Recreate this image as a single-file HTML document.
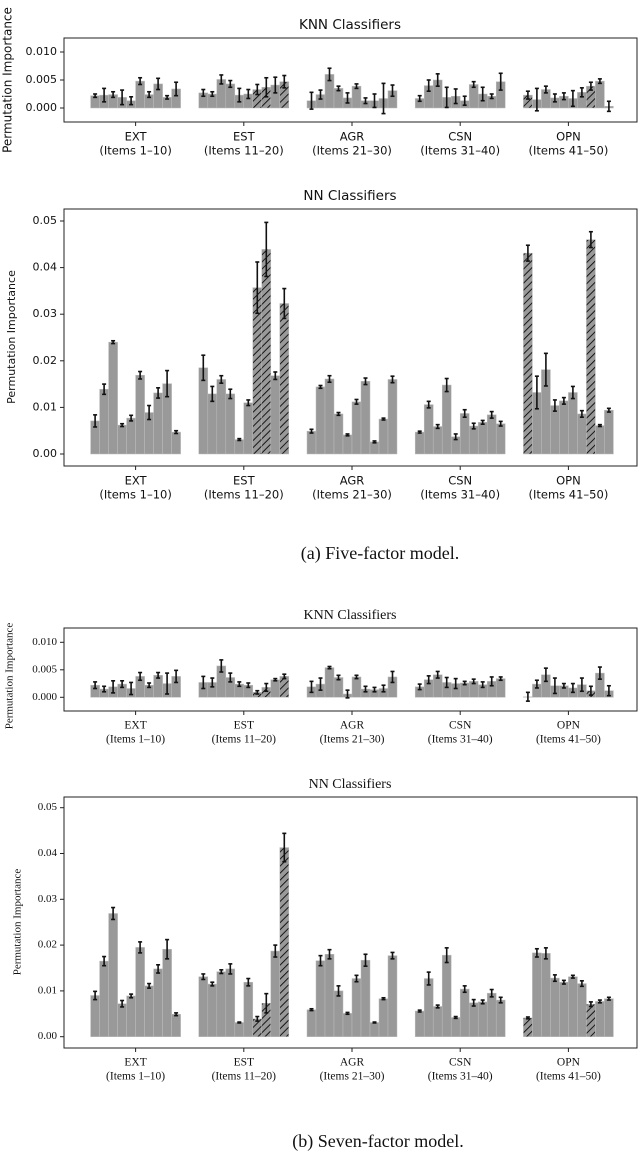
<!DOCTYPE html>
<html><head><meta charset="utf-8"><style>
html,body{margin:0;padding:0;background:#fff;}
svg{display:block;}
</style></head><body>
<svg id="fig" width="640" height="1156" viewBox="0 0 640 1156" xmlns="http://www.w3.org/2000/svg">
<defs>
<pattern id="hatch" patternUnits="userSpaceOnUse" width="5" height="5" patternTransform="rotate(45)">
<rect width="5" height="5" fill="#999"/>
<line x1="0" y1="0" x2="0" y2="5" stroke="#000" stroke-width="1.7"/>
</pattern>
</defs>
</svg>
<script>
// ---- data ----
const categories = ["EXT","EST","AGR","CSN","OPN"];
const itemLabels = ["(Items 1–10)","(Items 11–20)","(Items 21–30)","(Items 31–40)","(Items 41–50)"];
const knn5Values = [0.0022,0.0023,0.0024,0.0019,0.0013,0.0048,0.0024,0.0043,0.0019,0.0034,
 0.0027,0.0025,0.0051,0.0043,0.0023,0.0025,0.0033,0.0037,0.0041,0.0047,
 0.0013,0.0024,0.0060,0.0035,0.0018,0.0039,0.0013,0.0013,0.0017,0.0031,
 0.0017,0.0040,0.0050,0.0019,0.0021,0.0013,0.0042,0.0025,0.0021,0.0047,
 0.0023,0.0015,0.0033,0.0018,0.0021,0.0017,0.0028,0.0039,0.0048,0.0003];
const knn5Errors = [0.0003,0.0012,0.0005,0.0013,0.0007,0.0006,0.0005,0.0010,0.0003,0.0012,
 0.0006,0.0004,0.0008,0.0006,0.0012,0.0008,0.0009,0.0017,0.0014,0.0011,
 0.0015,0.0008,0.0011,0.0004,0.0009,0.0004,0.0005,0.0012,0.0027,0.0010,
 0.0005,0.0010,0.0011,0.0018,0.0013,0.0008,0.0005,0.0012,0.0004,0.0015,
 0.0007,0.0020,0.0006,0.0007,0.0006,0.0014,0.0008,0.0007,0.0004,0.0009];
const nn5Values = [0.0071,0.0139,0.0240,0.0062,0.0077,0.0169,0.0089,0.0131,0.0151,0.0047,
 0.0185,0.0129,0.0160,0.0129,0.0031,0.0110,0.0357,0.0439,0.0168,0.0323,
 0.0049,0.0144,0.0161,0.0086,0.0041,0.0112,0.0156,0.0026,0.0075,0.0160,
 0.0047,0.0106,0.0059,0.0148,0.0037,0.0087,0.0060,0.0068,0.0084,0.0065,
 0.0431,0.0132,0.0181,0.0104,0.0114,0.0132,0.0086,0.0460,0.0061,0.0094];
const nn5Errors = [0.0013,0.0011,0.0003,0.0003,0.0006,0.0008,0.0015,0.0011,0.0028,0.0003,
 0.0027,0.0016,0.0008,0.0010,0.0002,0.0006,0.0055,0.0058,0.0008,0.0032,
 0.0004,0.0003,0.0007,0.0003,0.0002,0.0005,0.0007,0.0002,0.0002,0.0007,
 0.0002,0.0007,0.0004,0.0014,0.0006,0.0008,0.0006,0.0004,0.0007,0.0005,
 0.0017,0.0035,0.0035,0.0012,0.0007,0.0013,0.0007,0.0017,0.0002,0.0004];
const knn7Values = [0.0022,0.0015,0.0019,0.0024,0.0016,0.0038,0.0022,0.0040,0.0025,0.0038,
 0.0027,0.0027,0.0057,0.0036,0.0024,0.0022,0.0009,0.0018,0.0032,0.0038,
 0.0019,0.0024,0.0054,0.0036,0.0006,0.0037,0.0015,0.0014,0.0016,0.0037,
 0.0019,0.0032,0.0041,0.0027,0.0025,0.0026,0.0029,0.0023,0.0029,0.0034,
 0.0001,0.0024,0.0041,0.0021,0.0021,0.0017,0.0023,0.0012,0.0044,0.0012];
const knn7Errors = [0.0006,0.0005,0.0011,0.0006,0.0011,0.0007,0.0004,0.0005,0.0019,0.0011,
 0.0011,0.0008,0.0011,0.0008,0.0004,0.0004,0.0003,0.0007,0.0002,0.0004,
 0.0010,0.0011,0.0002,0.0004,0.0007,0.0003,0.0005,0.0004,0.0006,0.0010,
 0.0005,0.0007,0.0006,0.0009,0.0009,0.0003,0.0004,0.0005,0.0008,0.0003,
 0.0008,0.0007,0.0012,0.0014,0.0004,0.0008,0.0012,0.0008,0.0011,0.0009];
const nn7Values = [0.0090,0.0165,0.0269,0.0072,0.0089,0.0195,0.0111,0.0148,0.0191,0.0049,
 0.0131,0.0115,0.0142,0.0148,0.0031,0.0119,0.0039,0.0073,0.0187,0.0413,
 0.0059,0.0166,0.0180,0.0100,0.0051,0.0127,0.0167,0.0031,0.0083,0.0177,
 0.0056,0.0127,0.0066,0.0178,0.0042,0.0104,0.0074,0.0076,0.0095,0.0080,
 0.0041,0.0183,0.0182,0.0128,0.0119,0.0131,0.0116,0.0071,0.0077,0.0083];
const nn7Errors = [0.0009,0.0010,0.0013,0.0007,0.0004,0.0012,0.0005,0.0009,0.0021,0.0003,
 0.0006,0.0004,0.0004,0.0011,0.0001,0.0008,0.0005,0.0021,0.0013,0.0031,
 0.0002,0.0011,0.0010,0.0011,0.0002,0.0007,0.0013,0.0001,0.0002,0.0007,
 0.0002,0.0014,0.0003,0.0016,0.0002,0.0007,0.0007,0.0004,0.0008,0.0006,
 0.0002,0.0009,0.0012,0.0007,0.0004,0.0003,0.0006,0.0005,0.0003,0.0003];
const hatched5 = [16,17,19,40,47];
const hatchedKnn7 = [16,17,19,47];
const hatchedNn7 = [16,17,19,40,47];
const knnTicks = [0, 0.005, 0.010];
const knnTickLabels = ["0.000","0.005","0.010"];
const nnTicks = [0,0.01,0.02,0.03,0.04,0.05];
const nnTickLabels = ["0.00","0.01","0.02","0.03","0.04","0.05"];

// ---- drawing ----
const NS = "http://www.w3.org/2000/svg";
const svg = document.getElementById("fig");
function mk(tag, attrs, parent){ const e=document.createElementNS(NS,tag); for(const k in attrs) e.setAttribute(k,attrs[k]); (parent||svg).appendChild(e); return e; }

function panel(cfg){
  const g = mk("g",{});
  
  
  const y = v => cfg.y0 - v * cfg.pxPerUnit;
  const xc = (grp, i) => 135.6 + 108.2*grp + (i-4.5)*9;
  const font = cfg.serif ? '"Liberation Serif", serif' : '"DejaVu Sans", "Liberation Sans", sans-serif';
  const t = mk("text",{x:350,y:cfg.titleY,"text-anchor":"middle","font-size":cfg.serif?14:13.5,"font-family":font,"dominant-baseline":"middle",fill:"#111"},g);
  t.textContent = cfg.title;
  
  
  cfg.values.forEach((v,k)=>{
    const grp=Math.floor(k/10), i=k%10;
    const cx=xc(grp,i);
    const top=Math.min(y(v),y(0)), h=Math.abs(y(v)-y(0));
    const r = mk("rect",{x:cx-4.5,y:top,width:9,height:Math.max(h,0.5),fill:cfg.hatched.includes(k)?"url(#hatch)":"#999",stroke:"#bdbdbd","stroke-width":0.5},g);
    
    
  });
  cfg.values.forEach((v,k)=>{
    const grp=Math.floor(k/10), i=k%10;
    const cx=xc(grp,i), e=cfg.errors[k];
    const eg = mk("g",{stroke:"#111","stroke-width":1.6},g);
    
    
    mk("line",{x1:cx,x2:cx,y1:y(v-e),y2:y(v+e)},eg);
    mk("line",{x1:cx-2,x2:cx+2,y1:y(v-e),y2:y(v-e)},eg);
    mk("line",{x1:cx-2,x2:cx+2,y1:y(v+e),y2:y(v+e)},eg);
  });
  const fr = mk("rect",{x:64,y:cfg.top,width:573,height:cfg.bottom-cfg.top,fill:"none",stroke:"#222","stroke-width":1},g);
  
  
  cfg.ticks.forEach((tv,j)=>{
    mk("line",{x1:60,x2:64,y1:y(tv),y2:y(tv),stroke:"#222","stroke-width":1},g);
    const tl = mk("text",{x:57,y:y(tv),"text-anchor":"end","dominant-baseline":"middle","font-size":11,"font-family":font,fill:"#111"},g);
    tl.textContent = cfg.tickLabels[j];
    
    
  });
  categories.forEach((c,gi)=>{
    const cx = 135.6+108.2*gi;
    mk("line",{x1:cx,x2:cx,y1:cfg.bottom,y2:cfg.bottom+4,stroke:"#222","stroke-width":1},g);
    const l1 = mk("text",{x:cx,y:cfg.bottom+15,"text-anchor":"middle","dominant-baseline":"middle","font-size":11.5,"font-family":font,fill:"#111"},g);
    l1.textContent = c;
    
    
    const l2 = mk("text",{x:cx,y:cfg.bottom+29,"text-anchor":"middle","dominant-baseline":"middle","font-size":11.5,"font-family":font,fill:"#111"},g);
    l2.textContent = itemLabels[gi];
    
    
  });
  const yt = mk("text",{x:cfg.ylabX,y:cfg.ylabY,"text-anchor":"middle","dominant-baseline":"middle","font-size":cfg.ylabSize,"font-family":font,fill:"#111",transform:`rotate(-90 ${cfg.ylabX} ${cfg.ylabY})`},g);
  yt.textContent = "Permutation Importance";
  
  
}

panel({name:"knn-five-factor-panel",title:"KNN Classifiers",titleY:25,top:38,bottom:122,y0:108,pxPerUnit:28/0.005,values:knn5Values,errors:knn5Errors,hatched:hatched5,ticks:knnTicks,tickLabels:knnTickLabels,serif:false,ylabX:8,ylabY:80,ylabSize:12});
panel({name:"nn-five-factor-panel",title:"NN Classifiers",titleY:196,top:209,bottom:466,y0:454,pxPerUnit:46.6/0.01,values:nn5Values,errors:nn5Errors,hatched:hatched5,ticks:nnTicks,tickLabels:nnTickLabels,serif:false,ylabX:12,ylabY:337,ylabSize:11});
panel({name:"knn-seven-factor-panel",title:"KNN Classifiers",titleY:616,top:628,bottom:711,y0:697.3,pxPerUnit:27.5/0.005,values:knn7Values,errors:knn7Errors,hatched:hatchedKnn7,ticks:knnTicks,tickLabels:knnTickLabels,serif:true,ylabX:10,ylabY:676,ylabSize:11});
panel({name:"nn-seven-factor-panel",title:"NN Classifiers",titleY:785,top:797,bottom:1048,y0:1036.7,pxPerUnit:45.8/0.01,values:nn7Values,errors:nn7Errors,hatched:hatchedNn7,ticks:nnTicks,tickLabels:nnTickLabels,serif:true,ylabX:18,ylabY:922,ylabSize:11});

const c1 = mk("text",{x:380,y:555,"text-anchor":"middle","dominant-baseline":"middle","font-size":18,"font-family":'"Liberation Serif", serif',fill:"#111"});
c1.textContent = "(a) Five-factor model.";


const c2 = mk("text",{x:378,y:1143,"text-anchor":"middle","dominant-baseline":"middle","font-size":18,"font-family":'"Liberation Serif", serif',fill:"#111"});
c2.textContent = "(b) Seven-factor model.";


</script>
</body></html>
